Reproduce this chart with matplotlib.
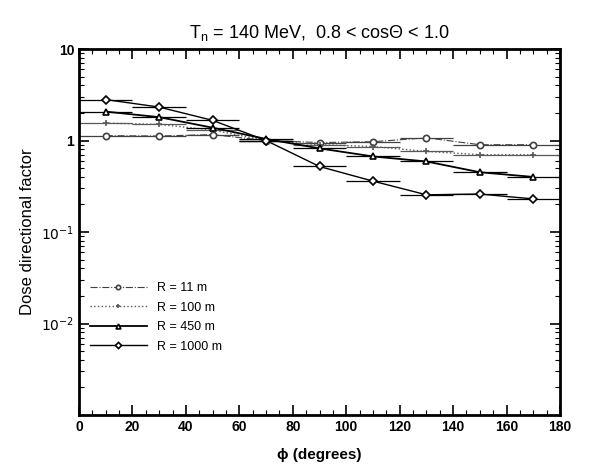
import numpy as np
import matplotlib
matplotlib.use('Agg')
import matplotlib.pyplot as plt
from matplotlib.ticker import FixedLocator, NullFormatter, LogLocator

plt.rcParams['font.family'] = ['Liberation Sans', 'DejaVu Sans']

# angle bins (centres) and half width
phi = [10, 30, 50, 70, 90, 110, 130, 150, 170]
phi_halfwidth = 10

r11 = [1.13, 1.12, 1.16, 1.0, 0.95, 0.97, 1.07, 0.9, 0.9]
r100 = [1.55, 1.5, 1.3, 1.0, 0.9, 0.86, 0.76, 0.7, 0.7]
r450 = [2.07, 1.8, 1.38, 1.04, 0.82, 0.67, 0.59, 0.45, 0.40]
r1000 = [2.8, 2.32, 1.66, 1.0, 0.52, 0.36, 0.255, 0.26, 0.23]

labels = ['R = 11 m', 'R = 100 m', 'R = 450 m', 'R = 1000 m']

fig = plt.figure(figsize=(6, 4.65), dpi=100)
ax = fig.add_axes([0.1317, 0.1075, 0.8016, 0.7871])

styles = [
    dict(data=r11, ls='-.', lw=0.8, marker='o', ms=4.5, color='0.25'),
    dict(data=r100, ls=':', lw=1.0, marker='+', ms=5, color='0.35'),
    dict(data=r450, ls='-', lw=1.3, marker='^', ms=5, color='black'),
    dict(data=r1000, ls='-', lw=1.0, marker='D', ms=4.5, color='black'),
]

for st, lab in zip(styles, labels):
    ax.errorbar(phi, st['data'], xerr=phi_halfwidth, fmt='none',
                ecolor=st['color'], elinewidth=0.9, capsize=0)
    ax.plot(phi, st['data'], ls=st['ls'], lw=st['lw'], color=st['color'],
            marker=st['marker'], ms=st['ms'], mfc='white', mec=st['color'],
            mew=1.2, label=lab)

ax.set_yscale('log')
ax.set_xlim(0, 180)
ax.set_ylim(1e-3, 10)

ax.set_xticks(np.arange(0, 181, 20))
ax.xaxis.set_minor_locator(FixedLocator(np.arange(0, 181, 5)))
ax.set_yticks([1e-2, 1e-1, 1, 10])
ax.set_yticklabels(['$10^{-2}$', '$10^{-1}$', '1', '10'])
ax.yaxis.set_minor_locator(LogLocator(base=10, subs=np.arange(2, 10)))
ax.yaxis.set_minor_formatter(NullFormatter())

ax.tick_params(which='both', direction='in', top=True, right=True)
ax.tick_params(which='major', length=7, width=1.2, labelsize=10)
ax.tick_params(which='minor', length=3.5, width=0.8)
for lab in ax.get_xticklabels() + ax.get_yticklabels():
    lab.set_fontweight('bold')
for sp in ax.spines.values():
    sp.set_linewidth(2)

ax.set_xlabel('\u03d5 (degrees)', fontsize=11, fontweight='bold', labelpad=10)
ax.set_ylabel('Dose directional factor', fontsize=12,
              family=['Liberation Sans Narrow', 'Liberation Sans', 'DejaVu Sans'])
ax.set_title('T$_{\\mathregular{n}}$ = 140 MeV,  0.8 < cos\u0398 < 1.0', fontsize=13, pad=8)

leg = ax.legend(loc='lower left', bbox_to_anchor=(0.0, 0.14), frameon=False,
                fontsize=9, handlelength=4.5, labelspacing=0.6, markerscale=0.7)

fig.savefig('out.png', dpi=100)
